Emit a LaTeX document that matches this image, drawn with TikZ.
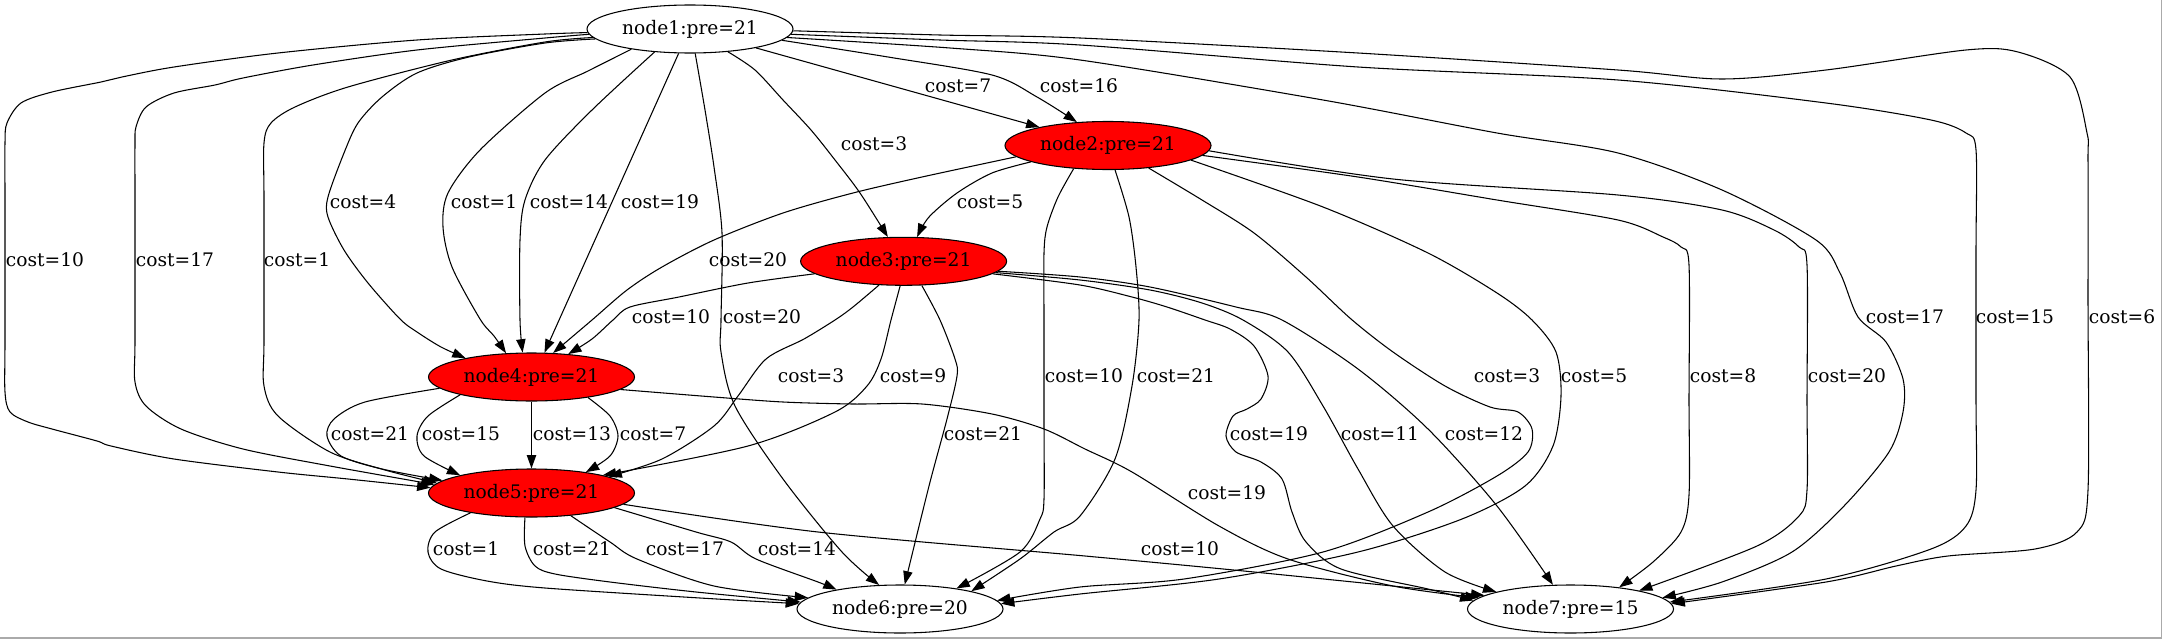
\documentclass[tikz,border=0pt]{standalone}
\usepackage{fontspec}
\setmainfont{DejaVu Serif}
\usetikzlibrary{arrows.meta,shapes.geometric}
\begin{document}
\begin{tikzpicture}[x=0.75pt,y=-0.75pt,
  gnode/.style={ellipse, draw=black, line width=0.8pt, minimum width=154.5pt, minimum height=36pt, inner sep=0pt, font=\fontsize{14}{16}\selectfont},
  rnode/.style={gnode, fill=red},
  wnode/.style={gnode, fill=white},
  conn/.style={draw=black, line width=0.8pt, -{Triangle[length=10pt,width=7pt]}},
  lbl/.style={font=\fontsize{14}{16}\selectfont, inner sep=0pt, text=black}]
\useasboundingbox (0,0) rectangle (2163,639);
\draw[draw={rgb,255:red,170;green,170;blue,170}, line width=0.8pt] (2161.5,0) -- (2161.5,638) -- (0,638);

\node[wnode] (n1) at (690,29) {node1:pre=21};
\node[rnode] (n2) at (1108,145.5) {node2:pre=21};
\node[rnode] (n3) at (903.6,261.3) {node3:pre=21};
\node[rnode] (n4) at (531.5,377) {node4:pre=21};
\node[rnode] (n5) at (531.5,493) {node5:pre=21};
\node[wnode] (n6) at (900,609) {node6:pre=20};
\node[wnode] (n7) at (1570.5,609) {node7:pre=15};

% node1 -> node5
\draw[conn] plot[smooth,tension=0.5] coordinates {(n1.182) (545,34) (417,40) (278,53) (174,67) (122,77) (101,82) (52,92) (21,103) (7,123) (5,143) (5,200) (5,340) (5,392) (10,412) (28,422) (52,429) (97,441) (111,446) (174,459) (278,472) (348,479) (n5.177)};
\draw[conn] plot[smooth,tension=0.5] coordinates {(n1.183) (545,38) (417,50) (313,65) (243,78) (215,85) (174,93) (146,107) (136,127) (135,145) (135,200) (135,340) (135,382) (146,406) (181,429) (243,449) (330,466) (n5.175)};
\draw[conn] plot[smooth,tension=0.5] coordinates {(n1.185) (545,42) (452,60) (348,87) (295,107) (271,123) (264,143) (264,200) (264,340) (264,386) (278,416) (330,452) (385,470) (n5.174)};
% node1 -> node4
\draw[conn] plot[smooth,tension=0.5] coordinates {(n1.186) (545,43) (469,57) (417,73) (382,97) (358,123) (344,153) (328,197) (328,217) (344,250) (368,283) (400,319) (417,332) (441,347) (n4.164)};
\draw[conn] plot[smooth,tension=0.5] coordinates {(n1.199) (588,71) (545,93) (480,150) (448,193) (443,227) (452,267) (480,319) (494,336) (n4.137)};
\draw[conn] plot[smooth,tension=0.5] coordinates {(n1.213) (592,110) (545,160) (525,200) (520,240) (520,320) (n4.110)};
\draw[conn] (n1.245) -- (n4.62);
% node1 -> node6
\draw[conn] plot[smooth,tension=0.5] coordinates {(n1.282) (705,110) (714,167) (722,233) (721,320) (721,352) (735,406) (783,479) (842,552) (n6.131)};
% node1 -> node3
\draw[conn] plot[smooth,tension=0.5] coordinates {(n1.329) (755,70) (783,100) (811,130) (835,160) (860,193) (n3.123)};
% node1 -> node2
\draw[conn] (n1.344) -- (n2.165);
\draw[conn] plot[smooth,tension=0.5] coordinates {(n1.353) (888,57) (992,75) (1037,97) (n2.143)};
% node1 -> node7
\draw[conn] plot[smooth,tension=0.5] coordinates {(n1.355) (950,48) (1080,60) (1323,100) (1497,133) (1618,153) (1722,190) (1816,240) (1840,273) (1858,317) (1886,342) (1903,379) (1903,412) (1889,452) (1844,506) (1792,552) (1722,582) (n7.7)};
\draw[conn] plot[smooth,tension=0.5] coordinates {(n1.357) (940,40) (1080,45) (1358,67) (1618,80) (1826,103) (1931,120) (1966,133) (1976,150) (1976,250) (1976,400) (1976,490) (1966,526) (1931,549) (1826,579) (n7.4)};
\draw[conn] plot[smooth,tension=0.5] coordinates {(n1.359) (940,35) (1080,38) (1358,53) (1618,70) (1722,79) (1826,70) (1966,50) (2018,52) (2070,77) (2087,133) (2088,160) (2088,300) (2088,490) (2077,532) (2035,549) (1948,556) (1896,566) (1826,582) (n7.3)};
% node2 edges
\draw[conn] plot[smooth,tension=0.5] coordinates {(n2.187) (922,177) (853,193) (783,213) (714,240) (662,267) (627,290) (592,320) (n4.48)};
\draw[conn] plot[smooth,tension=0.5] coordinates {(n2.192) (992,173) (957,193) (929,217) (n3.61)};
\draw[conn] plot[smooth,tension=0.5] coordinates {(n2.214) (1058,197) (1047,227) (1044,253) (1044,320) (1044,420) (1044,499) (1040,519) (1020,552) (n6.20)};
\draw[conn] plot[smooth,tension=0.5] coordinates {(n2.286) (1129,217) (1136,267) (1139,320) (1132,386) (1115,459) (1080,516) (1054,532) (1020,559) (n6.14)};
\draw[conn] plot[smooth,tension=0.5] coordinates {(n2.331) (1202,200) (1254,233) (1306,277) (1351,319) (1393,352) (1445,386) (1490,407) (1518,412) (1532,429) (1528,452) (1497,476) (1428,512) (1323,552) (1184,579) (1080,587) (n6.5)};
\draw[conn] plot[smooth,tension=0.5] coordinates {(n2.350) (1323,207) (1428,253) (1497,293) (1532,320) (1556,352) (1561,396) (1553,446) (1525,486) (1462,519) (1358,552) (1219,579) (1080,594) (n6.3)};
\draw[conn] plot[smooth,tension=0.5] coordinates {(n2.354) (1358,177) (1497,200) (1618,220) (1663,237) (1681,247) (1689,265) (1689,400) (1689,495) (1681,532) (1653,562) (n7.24)};
\draw[conn] plot[smooth,tension=0.5] coordinates {(n2.357) (1393,179) (1618,195) (1722,210) (1774,230) (1799,247) (1807,265) (1807,400) (1807,490) (1799,516) (1757,546) (n7.15)};
% node3 edges
\draw[conn] plot[smooth,tension=0.5] coordinates {(n3.188) (748,283) (679,297) (630,307) (613,320) (592,339) (n4.32)};
\draw[conn] plot[smooth,tension=0.5] coordinates {(n3.224) (853,307) (835,320) (804,339) (766,359) (738,396) (714,426) (662,459) (n5.12)};
\draw[conn] plot[smooth,tension=0.5] coordinates {(n3.262) (891,320) (881,359) (867,386) (835,412) (748,446) (n5.14)};
\draw[conn] plot[smooth,tension=0.5] coordinates {(n3.307) (940,320) (955,359) (957,376) (947,419) (929,486) (n6.79)};
\draw[conn] plot[smooth,tension=0.5] coordinates {(n3.352) (1080,285) (1132,297) (1167,307) (1205,320) (1230,329) (1254,346) (1268,376) (1261,399) (1247,409) (1233,416) (1226,436) (1236,452) (1261,462) (1282,479) (1292,512) (1306,542) (1341,569) (1428,589) (n7.175)};
\draw[conn] plot[smooth,tension=0.5] coordinates {(n3.353) (1080,280) (1150,290) (1202,303) (1243,320) (1288,352) (1323,406) (1358,469) (1393,526) (1445,572) (n7.167)};
\draw[conn] plot[smooth,tension=0.5] coordinates {(n3.354) (1080,277) (1150,287) (1236,307) (1282,320) (1358,369) (1428,429) (1497,506) (n7.126)};
% node4 edges
\draw[conn] plot[smooth,tension=0.5] coordinates {(n4.187) (365,402) (334,419) (327,436) (341,456) (382,469) (n5.172)};
\draw[conn] plot[smooth,tension=0.5] coordinates {(n4.194) (428,416) (417,436) (424,456) (n5.166)};
\draw[conn] (n4.south) -- (n5.north);
\draw[conn] plot[smooth,tension=0.5] coordinates {(n4.340) (610,416) (618,436) (610,456) (n5.21)};
\draw[conn] plot[smooth,tension=0.5] coordinates {(n4.352) (714,397) (783,402) (853,404) (922,404) (992,414) (1044,429) (1085,449) (1132,472) (1219,526) (1288,559) (1393,586) (n7.173)};
% node5 edges
\draw[conn] plot[smooth,tension=0.5] coordinates {(n5.353) (818,532) (1085,556) (1254,572) (n7.171)};
\draw[conn] plot[smooth,tension=0.5] coordinates {(n5.198) (435,532) (428,552) (441,569) (487,581) (545,588) (700,598) (n6.177)};
\draw[conn] plot[smooth,tension=0.5] coordinates {(n5.255) (525,546) (535,566) (555,574) (610,582) (696,592) (n6.176)};
\draw[conn] plot[smooth,tension=0.5] coordinates {(n5.330) (610,542) (637,559) (714,586) (n6.173)};
\draw[conn] plot[smooth,tension=0.5] coordinates {(n5.350) (696,532) (731,542) (756,559) (818,582) (n6.163)};

% labels
\node[lbl] (l1) at (45,260) {cost=10};
\node[lbl] (l2) at (175,260) {cost=17};
\node[lbl] (l3) at (297,260) {cost=1};
\node[lbl] (l4) at (363,202) {cost=4};
\node[lbl] (l5) at (484,202) {cost=1};
\node[lbl] (l6) at (569,202) {cost=14};
\node[lbl] (l7) at (660,202) {cost=19};
\node[lbl] (l8) at (874,144) {cost=3};
\node[lbl] (l9) at (958,86) {cost=7};
\node[lbl] (l10) at (1079,86) {cost=16};
\node[lbl] (l11) at (748,260) {cost=20};
\node[lbl] (l12) at (990,202) {cost=5};
\node[lbl] (l13) at (671,317) {cost=10};
\node[lbl] (l14) at (762,317) {cost=20};
\node[lbl] (l15) at (811,376) {cost=3};
\node[lbl] (l16) at (913,376) {cost=9};
\node[lbl] (l17) at (1084,376) {cost=10};
\node[lbl] (l18) at (1176,376) {cost=21};
\node[lbl] (l19) at (983,434) {cost=21};
\node[lbl] (l20) at (1269,434) {cost=19};
\node[lbl] (l21) at (1380,434) {cost=11};
\node[lbl] (l22) at (1484,434) {cost=12};
\node[lbl] (l23) at (1227,493) {cost=19};
\node[lbl] (l24) at (1507,376) {cost=3};
\node[lbl] (l25) at (1594,376) {cost=5};
\node[lbl] (l26) at (1723,376) {cost=8};
\node[lbl] (l27) at (1847,376) {cost=20};
\node[lbl] (l28) at (1905,317) {cost=17};
\node[lbl] (l29) at (2015,317) {cost=15};
\node[lbl] (l30) at (2122,317) {cost=6};
\node[lbl] (l31) at (370,434) {cost=21};
\node[lbl] (l32) at (461,434) {cost=15};
\node[lbl] (l33) at (572,434) {cost=13};
\node[lbl] (l34) at (653,434) {cost=7};
\node[lbl] (l35) at (466,549) {cost=1};
\node[lbl] (l36) at (572,549) {cost=21};
\node[lbl] (l37) at (685,549) {cost=17};
\node[lbl] (l38) at (797,549) {cost=14};
\node[lbl] (l39) at (1180,549) {cost=10};
\end{tikzpicture}
\end{document}
